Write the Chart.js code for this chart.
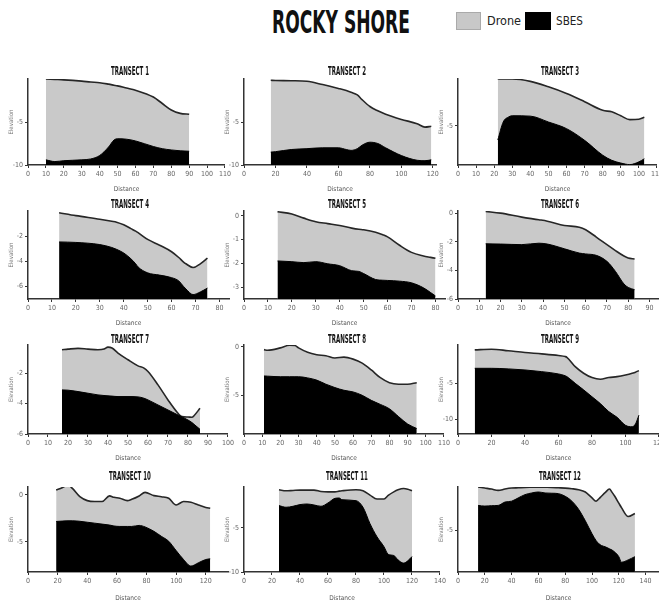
<!DOCTYPE html>
<html><head><meta charset="utf-8">
<script src="https://cdn.jsdelivr.net/npm/chart.js@4.4.1/dist/chart.umd.min.js"></script>
<style>
html,body{margin:0;padding:0;background:#fff;}
body{width:659px;height:608px;position:relative;overflow:hidden;font-family:'Liberation Sans Narrow','DejaVu Sans Condensed','Liberation Sans',sans-serif;}
#mainTitle{position:absolute;left:272px;top:4px;font-weight:bold;font-size:32px;line-height:36px;color:#111;white-space:nowrap;transform-origin:0 0;}
.lg{position:absolute;top:12px;height:18px;}
.lgt{position:absolute;top:13px;font-size:13px;line-height:16px;color:#222;transform-origin:0 0;}
canvas{position:absolute;}
</style></head><body>
<div id="mainTitle">ROCKY SHORE</div>
<div class="lg" style="left:456px;width:25px;background:#c8c8c8;border:1px solid #aaa;box-sizing:border-box;"></div>
<div class="lgt" id="lgDrone" style="left:487px;">Drone</div>
<div class="lg" style="left:525px;width:26px;background:#000;"></div>
<div class="lgt" id="lgSbes" style="left:556px;">SBES</div>
<script>
// ---------- DATA ----------
const seriesNames = ['Drone', 'SBES'];
const transectNames = ['TRANSECT 1','TRANSECT 2','TRANSECT 3','TRANSECT 4','TRANSECT 5','TRANSECT 6','TRANSECT 7','TRANSECT 8','TRANSECT 9','TRANSECT 10','TRANSECT 11','TRANSECT 12'];

const t1Dist  = [10,15,20,30,35,40,45,48,50,55,60,70,75,80,85,90];
const t1Drone = [0,-0.05,-0.1,-0.25,-0.35,-0.43,-0.6,-0.72,-0.8,-1.05,-1.3,-2.1,-2.85,-3.6,-4.0,-4.1];
const t1Sbes  = [-9.4,-9.6,-9.5,-9.4,-9.3,-8.9,-7.9,-7.1,-6.95,-7.0,-7.2,-7.85,-8.1,-8.25,-8.35,-8.4];

const t2Dist  = [17,20,30,40,50,60,65,68,72,75,80,85,90,100,110,115,119];
const t2Drone = [-0.15,-0.17,-0.2,-0.27,-0.65,-1.1,-1.35,-1.55,-1.85,-2.4,-3.2,-3.7,-4.1,-4.7,-5.2,-5.6,-5.5];
const t2Sbes  = [-8.5,-8.45,-8.2,-8.1,-8.0,-8.0,-8.2,-8.3,-8.1,-7.7,-7.35,-7.5,-8.0,-8.9,-9.45,-9.5,-9.4];

const t3Dist  = [22,25,28,30,40,50,60,70,80,85,90,95,100,103];
const t3Drone = [1.05,1.03,1.0,1.0,0.7,0,-0.85,-1.9,-3.0,-3.2,-3.7,-4.2,-4.15,-3.9];
const t3Sbes  = [-6.8,-4.5,-3.85,-3.7,-3.75,-4.5,-5.35,-6.85,-8.75,-9.4,-9.75,-9.95,-9.6,-9.2];

const t4Dist  = [13,20,30,35,37,40,43,45,46,50,55,60,63,65,66,69,72,75];
const t4Drone = [-0.14,-0.37,-0.66,-0.82,-0.89,-1.1,-1.4,-1.6,-1.72,-2.26,-2.72,-3.24,-3.7,-4.06,-4.2,-4.5,-4.2,-3.75];
const t4Sbes  = [-2.46,-2.5,-2.67,-2.9,-3.05,-3.34,-3.8,-4.2,-4.45,-4.92,-5.1,-5.3,-5.56,-6.0,-6.2,-6.65,-6.44,-6.13];

const t5Dist  = [14,20,25,30,35,40,45,48,50,55,58,60,65,70,75,78,80];
const t5Drone = [0.17,0.07,-0.1,-0.25,-0.33,-0.41,-0.52,-0.57,-0.59,-0.69,-0.8,-0.89,-1.24,-1.54,-1.69,-1.75,-1.79];
const t5Sbes  = [-1.9,-1.93,-1.97,-1.93,-2.02,-2.1,-2.31,-2.34,-2.43,-2.68,-2.71,-2.72,-2.75,-2.82,-3.03,-3.23,-3.37];

const t6Dist  = [13,20,30,38,42,50,57,60,65,70,74,78,80,83];
const t6Drone = [0.12,0,-0.28,-0.46,-0.56,-0.86,-0.98,-1.16,-1.67,-2.2,-2.62,-3.0,-3.14,-3.2];
const t6Sbes  = [-2.14,-2.16,-2.2,-2.1,-2.16,-2.49,-2.79,-2.85,-2.95,-3.37,-4.07,-4.95,-5.19,-5.35];

const t7Dist  = [17,20,25,30,35,38,40,42,45,50,55,58,60,65,70,75,77,80,82,83,86];
const t7Drone = [-0.46,-0.42,-0.37,-0.42,-0.46,-0.42,-0.29,-0.35,-0.68,-1.12,-1.52,-1.67,-1.89,-2.77,-3.76,-4.64,-4.86,-4.88,-4.9,-4.8,-4.31];
const t7Sbes  = [-3.1,-3.12,-3.21,-3.32,-3.43,-3.47,-3.49,-3.51,-3.54,-3.54,-3.56,-3.65,-3.76,-4.09,-4.42,-4.75,-4.88,-5.08,-5.25,-5.36,-5.69];

const t8Dist  = [11,13,20,25,28,30,35,40,45,50,55,60,65,70,75,80,85,90,95];
const t8Drone = [-0.28,-0.35,-0.1,0.17,0.14,-0.1,-0.56,-0.8,-0.91,-1.15,-1.05,-1.26,-1.68,-2.38,-3.18,-3.7,-3.85,-3.85,-3.7];
const t8Sbes  = [-3.0,-3.02,-3.08,-3.08,-3.08,-3.08,-3.2,-3.43,-3.85,-4.2,-4.48,-4.65,-5.0,-5.52,-5.94,-6.4,-7.2,-7.97,-8.43];

const t9Dist  = [10,20,30,40,50,60,64,65,70,75,80,85,90,95,100,104,106,108];
const t9Drone = [-0.37,-0.28,-0.5,-0.74,-0.93,-1.16,-1.3,-1.4,-2.69,-3.6,-4.2,-4.44,-4.2,-4.07,-3.84,-3.6,-3.45,-3.24];
const t9Sbes  = [-2.92,-2.92,-3.0,-3.15,-3.38,-3.7,-3.95,-4.07,-5.0,-5.9,-6.85,-7.8,-8.9,-9.7,-10.8,-11.0,-10.6,-9.4];

const t10Dist  = [19,23,27,30,35,40,45,50,55,58,62,67,70,75,79,85,90,95,100,105,110,115,120,123];
const t10Drone = [0.53,0.77,1.06,0.7,-0.18,-0.6,-0.7,-0.7,-0.1,-0.25,-0.35,-0.6,-0.46,-0.1,0.28,-0.07,-0.18,-0.35,-1.06,-0.7,-0.77,-1.06,-1.34,-1.41];
const t10Sbes  = [-2.82,-2.78,-2.75,-2.75,-2.8,-2.9,-3.0,-3.1,-3.2,-3.3,-3.35,-3.35,-3.35,-3.24,-3.4,-3.87,-4.4,-4.93,-5.92,-6.87,-7.57,-7.22,-6.87,-6.8];

const t11Dist  = [25,30,35,40,45,50,55,60,65,68,70,80,85,90,95,100,103,107,110,114,117,120];
const t11Drone = [-0.67,-0.78,-0.74,-0.7,-0.7,-0.7,-0.86,-0.9,-0.9,-0.82,-0.78,-0.67,-0.78,-1.27,-1.72,-1.72,-1.3,-0.9,-0.67,-0.52,-0.6,-0.78];
const t11Sbes  = [-2.46,-2.65,-2.54,-2.35,-2.28,-2.39,-2.54,-2.16,-1.64,-1.6,-1.79,-1.9,-2.65,-4.51,-6.0,-7.13,-7.99,-8.13,-8.62,-8.99,-8.73,-8.25];

const t12Dist  = [15,20,25,30,35,40,45,50,55,60,65,70,75,80,85,90,95,100,103,105,107,110,113,115,117,120,122,127,132];
const t12Drone = [0.24,0.12,0,-0.16,0,0.12,0.16,0.2,0.22,0.24,0.22,0.2,0.16,0.12,0.04,-0.08,-0.35,-1.06,-1.46,-1.2,-0.87,-0.4,0,-0.4,-0.87,-1.7,-2.24,-3.31,-2.95];
const t12Sbes  = [-1.97,-2.05,-2.0,-1.97,-1.57,-1.46,-1.06,-0.67,-0.47,-0.35,-0.47,-0.5,-0.55,-0.87,-1.46,-2.44,-3.82,-5.39,-6.2,-6.57,-6.8,-6.97,-7.2,-7.36,-7.6,-8.15,-8.82,-8.54,-8.15];

// axis ranges and tick labels
const xTicks80  = [0,10,20,30,40,50,60,70,80];
const xTicks90  = [0,10,20,30,40,50,60,70,80,90];
const xTicks100 = [0,10,20,30,40,50,60,70,80,90,100];
const xTicks110 = [0,10,20,30,40,50,60,70,80,90,100,110];
const xTicks120 = [0,20,40,60,80,100,120];
const xTicks140 = [0,20,40,60,80,100,120,140];

const dists   = [t1Dist,t2Dist,t3Dist,t4Dist,t5Dist,t6Dist,t7Dist,t8Dist,t9Dist,t10Dist,t11Dist,t12Dist];
const drones  = [t1Drone,t2Drone,t3Drone,t4Drone,t5Drone,t6Drone,t7Drone,t8Drone,t9Drone,t10Drone,t11Drone,t12Drone];
const sbeses  = [t1Sbes,t2Sbes,t3Sbes,t4Sbes,t5Sbes,t6Sbes,t7Sbes,t8Sbes,t9Sbes,t10Sbes,t11Sbes,t12Sbes];
const xMaxes  = [110,122,110, 84,84,94, 100,110,120, 135,140,150];
const xTickSets = [xTicks110,xTicks120,xTicks110, xTicks80,xTicks80,xTicks90, xTicks100,xTicks110,xTicks120, xTicks120,xTicks140,xTicks140];
const yMins   = [-10,-10,-10, -7,-3.5,-6, -6,-9,-12, -8.2,-10,-10];
const yMaxes  = [0,0,1.0, 0,0.2,0.15, -0.15,0.2,0.3, 0.85,-0.35,0.25];
const yTickSets = [[-10,-5],[-10,-5],[-5], [-6,-4,-2],[-3,-2,-1,0],[-6,-4,-2,0], [-6,-4,-2],[-5,0],[-10,-5], [-5,0],[-10,-5],[-5]];

// ---------- LAYOUT ----------
const colAxisX   = [28, 244, 458];
const colTitleX  = [130, 347, 560];
const rowTitleY  = [72, 205, 340, 477];
const rowAxisY   = [165, 299, 434, 572];
const rowPlotTop = [79, 211, 345, 487];
const rowXH      = [28, 28, 28, 30];
const panelRight = [225,436,657, 229,445,658, 228,444,659, 228,440,659];
const Y_W = 24, PAD_R = 8, PAD_T = 18, TITLE_W1 = 38;

const FAM = "'Liberation Sans Narrow','DejaVu Sans Condensed','Liberation Sans',sans-serif";
Chart.defaults.font.family = FAM;

// fit header texts
(function(){
  const t = document.getElementById('mainTitle');
  t.style.transform = 'scaleX(' + (138 / t.getBoundingClientRect().width) + ')';
  const d = document.getElementById('lgDrone');
  d.style.transform = 'scaleX(' + (34 / d.getBoundingClientRect().width) + ')';
  const s = document.getElementById('lgSbes');
  s.style.transform = 'scaleX(' + (27 / s.getBoundingClientRect().width) + ')';
})();

// condensed panel-title plugin
const TITLE_FONT = "bold 12px " + FAM;
let titleScale = 1;
(function(){
  const c = document.createElement('canvas').getContext('2d');
  c.font = TITLE_FONT;
  titleScale = TITLE_W1 / c.measureText('TRANSECT 1').width;
})();
const panelTitle = {
  id: 'panelTitle',
  afterDraw(chart, args, opts) {
    const ctx = chart.ctx;
    ctx.save();
    ctx.font = TITLE_FONT;
    ctx.fillStyle = '#111';
    ctx.textAlign = 'center';
    ctx.textBaseline = 'middle';
    ctx.translate(opts.cx, opts.cy);
    ctx.scale(titleScale, 1);
    ctx.fillText(opts.text, 0, 0);
    ctx.restore();
  }
};

for (let i = 0; i < 12; i++) {
  const col = i % 3, row = Math.floor(i / 3);
  const axisX = colAxisX[col];
  const left = axisX - Y_W;
  const top = rowPlotTop[row] - PAD_T;
  const width = Math.round(panelRight[i] - left + PAD_R);
  const height = Math.round(rowAxisY[row] + rowXH[row] - top);
  const cv = document.createElement('canvas');
  cv.width = width; cv.height = height;
  cv.style.left = left + 'px'; cv.style.top = top + 'px';
  cv.style.width = width + 'px'; cv.style.height = height + 'px';
  document.body.appendChild(cv);

  const dist = dists[i];
  const droneData = dist.map((d, k) => ({x: d, y: drones[i][k]}));
  const sbesData  = dist.map((d, k) => ({x: d, y: sbeses[i][k]}));
  const xT = xTickSets[i], yT = yTickSets[i];
  const xh = rowXH[row];

  new Chart(cv, {
    type: 'line',
    data: {
      datasets: [
        {label: seriesNames[1], data: sbesData, order: 0, fill: 'start',
         backgroundColor: '#000', borderColor: '#000', borderWidth: 1,
         pointRadius: 0, cubicInterpolationMode: 'monotone'},
        {label: seriesNames[0], data: droneData, order: 1, fill: 'start',
         backgroundColor: '#c9c9c9', borderColor: '#262626', borderWidth: 1.6,
         pointRadius: 0, cubicInterpolationMode: 'monotone'}
      ]
    },
    plugins: [panelTitle],
    options: {
      responsive: false, animation: false, devicePixelRatio: 1,
      layout: {padding: {left: 0, right: PAD_R, top: PAD_T, bottom: 0}},
      plugins: {
        legend: {display: false}, tooltip: {enabled: false}, title: {display: false},
        panelTitle: {text: transectNames[i], cx: colTitleX[col] - left, cy: rowTitleY[row] - top}
      },
      scales: {
        x: {
          type: 'linear', min: 0, max: xMaxes[i],
          afterBuildTicks: s => { s.ticks = xT.map(v => ({value: v})); },
          afterFit: s => { s.height = xh; },
          ticks: {autoSkip: false, maxRotation: 0, padding: 2, color: '#666', font: {size: 7}},
          grid: {display: true, drawOnChartArea: false, tickLength: 3, color: '#333', lineWidth: 1},
          border: {display: true, color: '#333', width: 1.5},
          title: {display: true, text: 'Distance', color: '#555', font: {size: 6.5}, padding: {top: 0, bottom: 0}}
        },
        y: {
          type: 'linear', min: yMins[i], max: yMaxes[i],
          afterBuildTicks: s => { s.ticks = yT.map(v => ({value: v})); },
          afterFit: s => { s.width = Y_W; },
          ticks: {autoSkip: false, padding: 2, color: '#666', font: {size: 7}},
          grid: {display: true, drawOnChartArea: false, tickLength: 3, color: '#333', lineWidth: 1},
          border: {display: true, color: '#333', width: 1.5},
          title: {display: true, text: 'Elevation', color: '#777', font: {size: 6}, padding: {top: 4, bottom: 0}}
        }
      }
    }
  });
}
</script>
</body></html>
